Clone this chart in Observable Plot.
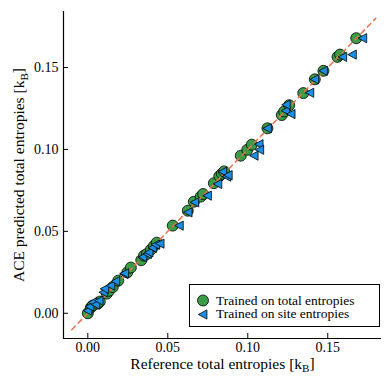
<!DOCTYPE html>
<html>
<head>
<meta charset="utf-8">
<script src="https://cdn.jsdelivr.net/npm/d3@7"></script>
<script src="https://cdn.jsdelivr.net/npm/@observablehq/plot@0.6"></script>
<style>
  body { margin: 0; background: #fff; }
  #wrap { position: relative; width: 392px; height: 392px; font-family: "Liberation Serif", serif; }
  #wrap svg text { font-family: "Liberation Serif", serif; }
  #legend { position: absolute; left: 189px; top: 284px; width: 191px; height: 43px; border: 1px solid #000; background: #fff; box-sizing: border-box; font-size: 13.5px; line-height: 1; color: #000; }
  #legend .row { position: absolute; left: 6px; height: 13px; display: flex; align-items: center; white-space: nowrap; }
  #legend svg { margin-right: 6px; flex: none; }
  #legend span { line-height: 1; }
</style>
</head>
<body>
<div id="wrap"><div id="legend"></div></div>
<script>
// Data
const xTotal = [0.000,0.0019,0.0031,0.0063,0.0075,0.0119,0.0133,0.0156,0.019,0.0247,0.0269,0.0334,0.0352,0.0369,0.0394,0.0413,0.0431,0.0531,0.0625,0.0663,0.0706,0.0721,0.0788,0.0822,0.0838,0.0852,0.0956,0.0997,0.1025,0.1123,0.1213,0.1228,0.1259,0.1347,0.1419,0.1473,0.1561,0.1577,0.1678];
const yTotal = [0.000,0.0035,0.0047,0.0059,0.0071,0.012,0.0138,0.016,0.0199,0.025,0.0279,0.0324,0.0352,0.0362,0.0388,0.041,0.0431,0.0535,0.0626,0.0681,0.0712,0.0728,0.0794,0.0837,0.0852,0.0866,0.0962,0.0998,0.1029,0.1129,0.121,0.1232,0.127,0.1344,0.1428,0.148,0.1565,0.1579,0.1679];
const xSite = [0.000,0.0013,0.0031,0.005,0.0071,0.0098,0.0106,0.0144,0.0175,0.0227,0.0231,0.0344,0.0373,0.0383,0.0406,0.0425,0.0452,0.0572,0.0627,0.0669,0.0748,0.0813,0.0844,0.0869,0.0878,0.104,0.1071,0.1075,0.1123,0.1238,0.1271,0.1241,0.1388,0.1419,0.1473,0.1594,0.1654,0.1719];
const ySite = [0.0016,0.0041,0.0067,0.0053,0.0077,0.0128,0.0149,0.0169,0.0195,0.024,0.0244,0.0343,0.0362,0.0372,0.04,0.0419,0.0425,0.0535,0.0616,0.0677,0.0718,0.0789,0.0864,0.0834,0.0843,0.0962,0.1032,0.0998,0.1129,0.1236,0.1216,0.1273,0.1346,0.1428,0.148,0.1565,0.1579,0.1679];
const diagonal = [-0.01, 0.18];
const xTicks = [0.00, 0.05, 0.10, 0.15];
const yTicks = [0.00, 0.05, 0.10, 0.15];
const seriesNames = ["Trained on total entropies", "Trained on site entropies"];
const xLabel = "Reference total entropies [k_B]";
const yLabel = "ACE predicted total entropies [k_B]";

const greenColor = "#3a9c47";
const blueColor = "#1b8fe4";
const lineColor = "#e8704f";

const totalData = xTotal.map((x, i) => ({x, y: yTotal[i]}));
const siteData = xSite.map((x, i) => ({x, y: ySite[i]}));

const leftTriangle = {
  draw(ctx, size) {
    const r = Math.sqrt(size / Math.PI);
    ctx.moveTo(-r * 1.0, 0);
    ctx.lineTo(r * 0.85, -r * 1.0);
    ctx.lineTo(r * 0.85, r * 1.0);
    ctx.closePath();
  }
};

const W = 392, H = 392, mL = 63, mR = 11, mT = 11, mB = 54;
const xDom = [-0.0152, 0.1836], yDom = [-0.0154, 0.1842];
const frameW = W - mL - mR, frameH = H - mT - mB;

const chart = Plot.plot({
  width: W, height: H,
  marginLeft: mL, marginRight: mR, marginTop: mT, marginBottom: mB,
  style: {fontFamily: "Liberation Serif, serif", fontSize: "14px", color: "#000", background: "#fff"},
  x: {domain: xDom},
  y: {domain: yDom},
  marks: [
    Plot.ruleX([xDom[0]], {stroke: "#000", strokeWidth: 1.2}),
    Plot.ruleY([yDom[0]], {stroke: "#000", strokeWidth: 1.2}),
    Plot.tickX(xTicks, {x: d => d, insetTop: frameH - 5, stroke: "#000", strokeWidth: 1}),
    Plot.tickY(yTicks, {y: d => d, insetRight: frameW - 5, stroke: "#000", strokeWidth: 1}),
    Plot.axisX({ticks: xTicks, tickFormat: d3.format(".2f"), tickSize: 0, tickPadding: 3.5, fontSize: 14, label: null}),
    Plot.axisY({ticks: yTicks, tickFormat: d3.format(".2f"), tickSize: 0, tickPadding: 5, fontSize: 14, label: null}),
    Plot.text([xLabel], {text: d => d, frameAnchor: "bottom", textAnchor: "middle", dy: 25.5, lineAnchor: "middle", fontSize: 15.5, fill: "#000"}),
    Plot.text([yLabel], {text: d => d, frameAnchor: "left", textAnchor: "middle", dx: -44, rotate: -90, lineAnchor: "middle", fontSize: 15.5, fill: "#000"}),
    Plot.dot(totalData, {x: "x", y: "y", r: 5.5, fill: greenColor, stroke: "#000", strokeWidth: 0.8}),
    Plot.line(diagonal, {x: d => d, y: d => d, stroke: lineColor, strokeWidth: 1.5, strokeDasharray: "5,4"}),
    Plot.dot(siteData, {x: "x", y: "y", r: 4.6, symbol: leftTriangle, fill: blueColor, stroke: "#000", strokeWidth: 0.8})
  ]
});

// subscript B in axis titles
chart.querySelectorAll("text").forEach(t => {
  const s = t.textContent;
  if (s.includes("k_B") && t.children.length === 0) {
    const [a, b] = s.split("k_B");
    t.textContent = "";
    const ns = "http://www.w3.org/2000/svg";
    const t1 = document.createElementNS(ns, "tspan"); t1.textContent = a + "k";
    const t2 = document.createElementNS(ns, "tspan"); t2.textContent = "B"; t2.setAttribute("dy", "0.3em"); t2.setAttribute("font-size", "0.72em");
    const t3 = document.createElementNS(ns, "tspan"); t3.textContent = b; t3.setAttribute("dy", "-0.3em");
    t.append(t1, t2, t3);
  }
});

document.getElementById("wrap").prepend(chart);

// legend
const legend = document.getElementById("legend");
const symbols = [
  `<svg width="14" height="13" viewBox="-7 -6.5 14 13"><circle r="5.5" fill="${greenColor}" stroke="#000" stroke-width="0.8"/></svg>`,
  `<svg width="14" height="13" viewBox="-7 -6.5 14 13"><path d="M-4.6,0L3.9,-4.6L3.9,4.6Z" fill="${blueColor}" stroke="#000" stroke-width="0.8"/></svg>`
];
seriesNames.forEach((name, i) => {
  const row = document.createElement("div");
  row.className = "row";
  row.style.top = (i === 0 ? 9 : 22.5) + "px";
  row.innerHTML = symbols[i] + `<span>${name}</span>`;
  legend.appendChild(row);
});
</script>
</body>
</html>
